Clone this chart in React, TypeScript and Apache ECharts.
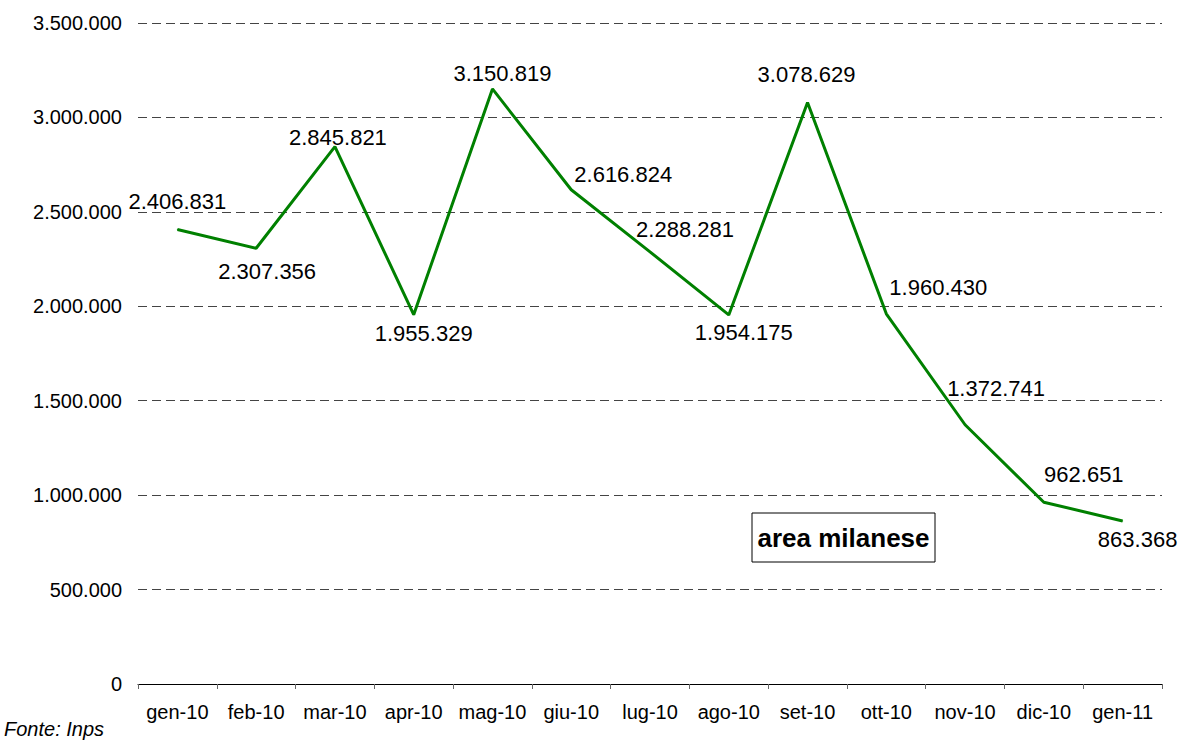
import React, { useEffect, useRef } from "react";
import * as echarts from "echarts";

const categories = [
  "gen-10", "feb-10", "mar-10", "apr-10", "mag-10", "giu-10", "lug-10",
  "ago-10", "set-10", "ott-10", "nov-10", "dic-10", "gen-11",
];
const values = [
  2406831, 2307356, 2845821, 1955329, 3150819, 2616824, 2288281,
  1954175, 3078629, 1960430, 1372741, 962651, 863368,
];
const yMin = 0;
const yMax = 3500000;
const yStep = 500000;
const boxTitle = "area milanese";
const sourceNote = "Fonte: Inps";

// label placement offsets (style only)
const labelOffsets: [number, number][] = [
  [0, -28], [11, 23], [3, -9], [10, 19], [10, -15], [52, -15], [35, -22],
  [15, 18], [-1, -28], [52, -26], [31, -36], [40, -28], [15, 19],
];

const fmt = (v: number) =>
  String(Math.round(v)).replace(/\B(?=(\d{3})+(?!\d))/g, ".");

const FONT = "'Liberation Sans', Arial, sans-serif";

export default function App() {
  const ref = useRef<HTMLDivElement>(null);
  useEffect(() => {
    document.body.style.margin = "0";
    if (!ref.current) return;
    const chart = echarts.init(ref.current, undefined, { renderer: "svg" });
    chart.setOption({
      animation: false,
      backgroundColor: "#fff",
      grid: { left: 138, right: 23, top: 23, bottom: 56, containLabel: false },
      xAxis: {
        type: "category",
        data: categories,
        boundaryGap: true,
        axisLine: { show: true, lineStyle: { color: "#000", width: 1 } },
        axisTick: { show: true, length: 5, lineStyle: { color: "#666" } },
        axisLabel: {
          color: "#000",
          fontSize: 20,
          fontFamily: FONT,
          margin: 18,
          interval: 0,
        },
        splitLine: { show: false },
      },
      yAxis: {
        type: "value",
        min: yMin,
        max: yMax,
        interval: yStep,
        axisLine: { show: false },
        axisTick: { show: false },
        axisLabel: {
          color: "#000",
          fontSize: 20,
          fontFamily: FONT,
          margin: 16,
          formatter: (v: number) => fmt(v),
        },
        splitLine: {
          show: true,
          lineStyle: { color: "#444", width: 1, type: [9, 5] },
        },
      },
      series: [
        {
          type: "line",
          data: values.map((v, i) => ({
            value: v,
            label: { offset: labelOffsets[i] },
          })),
          symbol: "circle",
          symbolSize: 1,
          showSymbol: true,
          itemStyle: { color: "#008000" },
          lineStyle: { color: "#008000", width: 3 },
          label: {
            show: true,
            position: "inside",
            color: "#000",
            fontSize: 22,
            fontFamily: FONT,
            formatter: (p: any) => fmt(p.value),
          },
          z: 3,
        },
      ],
      graphic: [
        {
          type: "rect",
          shape: { x: 752, y: 513, width: 183, height: 49 },
          style: { fill: "#fff", stroke: "#000", lineWidth: 1 },
          z: 10,
        },
        {
          type: "text",
          x: 843.5,
          y: 538,
          style: {
            text: boxTitle,
            fill: "#000",
            font: `bold 26px ${FONT}`,
            align: "center",
            verticalAlign: "middle",
          },
          z: 11,
        },
        {
          type: "text",
          x: 4,
          y: 729,
          style: {
            text: sourceNote,
            fill: "#000",
            font: `italic 20px ${FONT}`,
            align: "left",
            verticalAlign: "middle",
          },
          z: 11,
        },
      ],
    });
    return () => chart.dispose();
  }, []);
  return <div ref={ref} style={{ width: 1185, height: 740 }} />;
}
